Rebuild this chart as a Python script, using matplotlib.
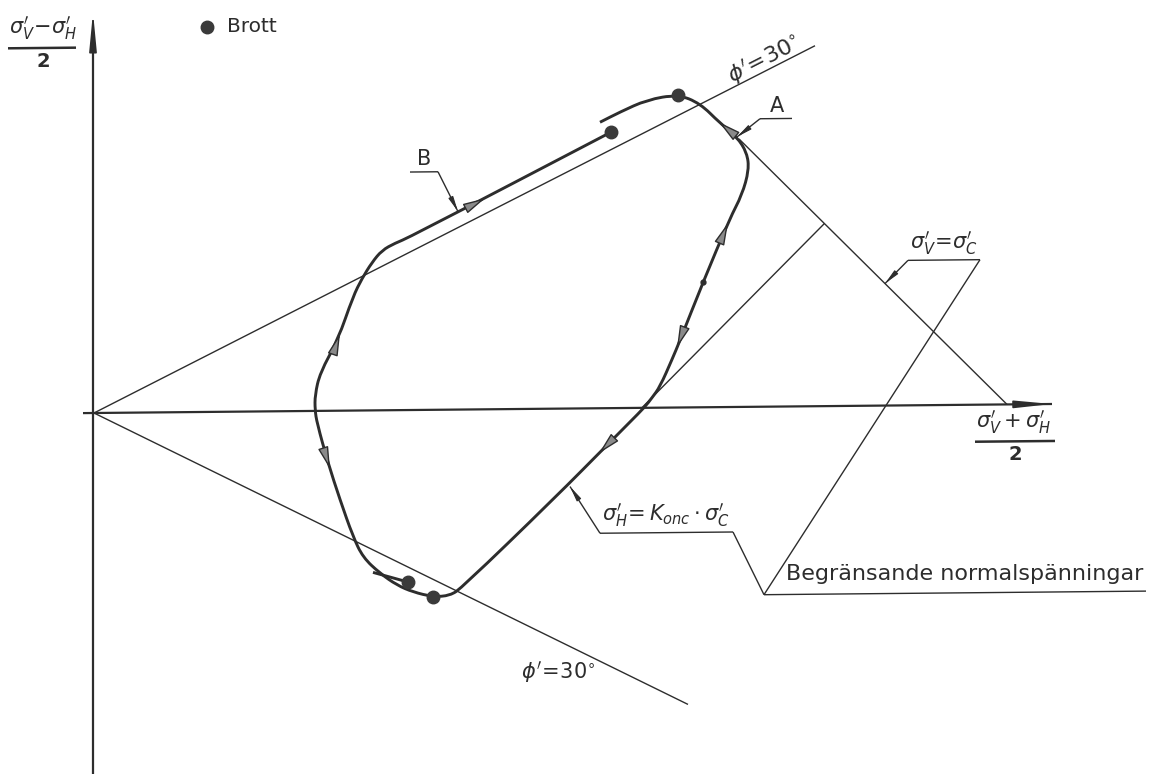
import numpy as np
import matplotlib
matplotlib.use("Agg")
import matplotlib.pyplot as plt
from matplotlib.patches import FancyArrowPatch, PathPatch
from matplotlib.path import Path
from matplotlib.transforms import Affine2D

plt.rcParams['font.family'] = ['DejaVu Sans']
plt.rcParams['mathtext.fontset'] = 'dejavusans'

ink = '#2d2d2d'

# p = (s'v + s'h)/2 on x, q = (s'v - s'h)/2 on y
phi = 30.0          # friction angle, degrees
sigma_c = 913.0     # preconsolidation pressure
k_onc = 0.60        # earth pressure coefficient, normally consolidated
p_axis_slope = 0.0094   # the p-axis is drafted running slightly uphill

# stress paths (one continuous trace, starting at the end of path B)
path_p = [517, 316, 301, 288, 278, 268, 259, 244, 226, 221, 221, 223, 234, 246,
          259, 269, 286, 303, 319, 339, 356, 368, 459, 518, 536, 551, 558, 566,
          578, 586, 609, 636, 648, 655, 653, 643, 626, 606, 584, 553, 526, 506]
path_q = [276, 173, 167, 160, 148, 132, 114, 71, 38, 16, 1, -12, -52, -89,
          -126, -147, -163, -175, -182, -187, -186, -178, -91, -32, -14, 1, 10, 21,
          48, 67, 125, 189, 212, 237, 254, 270, 284, 304, 313, 308, 296, 286]
tail_p = [279, 314]
tail_q = [-162, -172]

# failure points ("Brott")
brott_p = [517, 584, 339, 314]
brott_q = [276, 313, -187, -172]

# direction arrows along the paths: tip and heading
arrow_tip_p = [391, 634, 583, 625, 246, 236, 505]
arrow_tip_q = [211, 184, 60, 285, 77, -58, -45]
arrow_dir_p = [201, 27, -22, -17, 15, 12, -1]
arrow_dir_q = [103, 64, -58, 14, 43, -37, -1]

fig = plt.figure(figsize=(11.5, 7.74), dpi=100)
fig.patch.set_facecolor('white')
ax = fig.add_axes([0, 0, 1, 1])
ax.set_xlim(-94, 1056)
ax.set_ylim(-361, 413)
ax.axis('off')

tr = Affine2D().skew(0, np.arctan(p_axis_slope)) + ax.transData


def line(ps, qs, lw=1.0, **kw):
    ax.plot(ps, qs, color=ink, lw=lw, transform=tr, solid_capstyle='butt',
            solid_joinstyle='round', **kw)


def curve(ps, qs, lw=2.0):
    # quadratic spline: the given points act as control points,
    # segment midpoints lie on the curve
    pts = np.column_stack([ps, qs]).astype(float)
    mids = (pts[:-1] + pts[1:]) / 2
    verts = [pts[0], mids[0]]
    codes = [Path.MOVETO, Path.LINETO]
    for i in range(1, len(pts) - 1):
        verts += [pts[i], mids[i]]
        codes += [Path.CURVE3, Path.CURVE3]
    verts.append(pts[-1])
    codes.append(Path.LINETO)
    ax.add_patch(PathPatch(Path(verts, codes), fc='none', ec=ink, lw=lw,
                           capstyle='butt', joinstyle='round', transform=tr))


def head(tip, frm, length=1.0, width=0.3, fc=ink, lw=0.8):
    ax.add_patch(FancyArrowPatch(frm, tip, transform=tr,
                                 arrowstyle=f'-|>,head_length={length},head_width={width}',
                                 mutation_scale=10, color=ink, fc=fc, lw=lw,
                                 shrinkA=0, shrinkB=0))


# axes with arrow tips
line([-11, 958], [0, 0], lw=1.6)
head((958, 0), (930, 0), length=2.2, width=0.22, lw=1.2)
line([-1, -1], [-361, 380], lw=1.6)
head((-1, 401), (-1, 370), length=2.3, width=0.22, lw=1.2)

# Mohr-Coulomb envelopes, phi' = 30
s = np.sin(np.radians(phi))
line([0, 721], [0, 721 * s], lw=1.0)
line([0, 594], [0, -594 * s], lw=1.0)

# limiting normal stresses: s'v = s'c and s'h = K_onc * s'c
p_cross = (sigma_c + k_onc * sigma_c) / 2
line([645, sigma_c], [sigma_c - 645, 0], lw=1.0)
line([k_onc * sigma_c, p_cross], [0, p_cross - k_onc * sigma_c], lw=1.0)

# stress paths
curve(path_p, path_q, lw=2.1)
line(tail_p, tail_q, lw=2.1)
ax.plot(brott_p, brott_q, 'o', ms=9, color='#3a3a3a', transform=tr)
ax.plot([609], [125], 'o', ms=3.5, color=ink, transform=tr)

for tp, tq, dp, dq in zip(arrow_tip_p, arrow_tip_q, arrow_dir_p, arrow_dir_q):
    d = np.array([dp, dq], float)
    d /= np.hypot(*d)
    head((tp, tq), (tp - 16 * d[0], tq - 16 * d[1]), length=1.35, width=0.32,
         fc='#8a8a8a', lw=1.0)

# labels A and B with leaders
line([666, 698], [288, 288])
line([666, 643], [288, 270])
head((643, 270), (655, 279), length=0.9, width=0.15)
ax.text(683, 291, 'A', fontsize=15, color=ink, ha='center', va='bottom', transform=tr)

line([316, 344], [238, 238])
line([344, 364], [238, 198])
head((364, 198), (358, 210), length=0.9, width=0.15)
ax.text(330, 241, 'B', fontsize=15, color=ink, ha='center', va='bottom', transform=tr)

# s'v = s'c label
line([814, 886], [145, 145])
line([814, 791], [145, 122])
head((791, 122), (800, 131), length=0.9, width=0.15)
ax.text(850, 148, r"$\sigma^{\prime}_{V}\!=\!\sigma^{\prime}_{C}$", fontsize=15,
        color=ink, ha='center', va='bottom', transform=tr)

# s'h = K_onc s'c label
line([506, 639], [-125, -125])
line([506, 476], [-125, -78])
head((476, -78), (484, -90), length=0.9, width=0.15)
ax.text(572, -121, r"$\sigma^{\prime}_{H}\!=K_{onc}\cdot\sigma^{\prime}_{C}$",
        fontsize=15, color=ink, ha='center', va='bottom', transform=tr)

# common leader to "Begränsande normalspänningar"
vertex = (670, -188)
line([886, vertex[0]], [145, vertex[1]])
line([639, vertex[0]], [-125, vertex[1]])
line([vertex[0], 1052], [vertex[1], vertex[1]])
ax.text(1049, -181, 'Begränsande normalspänningar', fontsize=16, color=ink,
        ha='right', va='bottom', transform=tr)

# phi' = 30 labels
ax.text(670, 347, r"$\phi^{\prime}\!=\!30^{\circ}$", fontsize=16, color=ink,
        ha='center', va='center', rotation=27, rotation_mode='anchor', transform=tr)
ax.text(464, -263, r"$\phi^{\prime}\!=\!30^{\circ}$", fontsize=15, color=ink,
        ha='center', va='center', transform=tr)

# axis titles as stacked fractions
ax.text(-51, 371, r"$\sigma^{\prime}_{V}\!-\!\sigma^{\prime}_{H}$", fontsize=15,
        color=ink, ha='center', va='bottom', transform=tr)
line([-86, -18], [365.5, 365.5], lw=1.8)
ax.text(-51, 361, '2', fontsize=14, fontweight='bold', color=ink,
        ha='center', va='top', transform=tr)

ax.text(920, -32, r"$\sigma^{\prime}_{V}+\sigma^{\prime}_{H}$", fontsize=15,
        color=ink, ha='center', va='bottom', transform=tr)
line([881, 961], [-37, -37], lw=1.8)
ax.text(921, -41, '2', fontsize=14, fontweight='bold', color=ink,
        ha='center', va='top', transform=tr)

# legend
ax.plot([113], [385], 'o', ms=9, color='#3a3a3a', transform=tr)
ax.text(133, 385, 'Brott', fontsize=14.5, color=ink, ha='left', va='center',
        transform=tr)

fig.savefig('out.png', dpi=100, facecolor='white')
